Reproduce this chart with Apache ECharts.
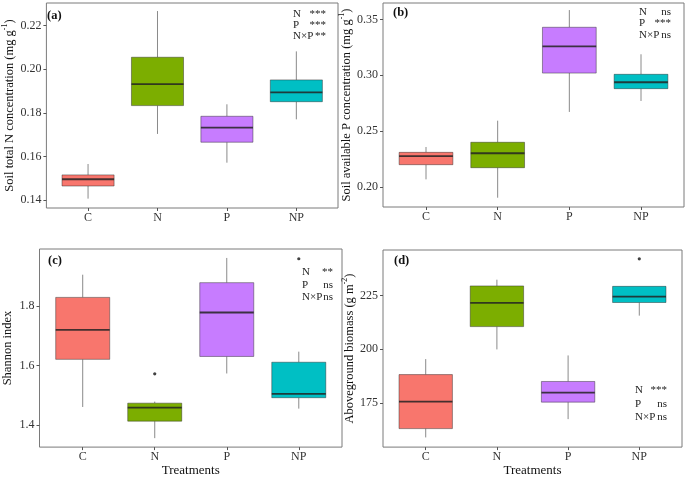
<!DOCTYPE html>
<html>
<head>
<meta charset="utf-8">
<script src="https://cdn.jsdelivr.net/npm/echarts@6.0.0/dist/echarts.min.js"></script>
<style>
html,body{margin:0;padding:0;background:#fff;}
#chart{width:685px;height:478px;}
</style>
</head>
<body>
<div id="chart"></div>
<script>
// ---------------- data ----------------
var categories = ['C', 'N', 'P', 'NP'];
// each row: [lower whisker, Q1, median, Q3, upper whisker]
var totalN = [
  [0.1406, 0.1464, 0.1495, 0.1515, 0.1565],
  [0.1703, 0.1833, 0.1932, 0.2055, 0.2267],
  [0.1571, 0.1665, 0.1732, 0.1784, 0.1839],
  [0.1770, 0.1851, 0.1894, 0.1951, 0.2082]
];
var availP = [
  [0.2071, 0.2202, 0.2279, 0.2312, 0.2360],
  [0.1907, 0.2175, 0.2304, 0.2402, 0.2595],
  [0.2673, 0.3020, 0.3259, 0.3429, 0.3583],
  [0.2771, 0.2881, 0.2938, 0.3009, 0.3188]
];
var shannon = [
  [1.4605, 1.6207, 1.7201, 1.8291, 1.9054],
  [1.3557, 1.4129, 1.4582, 1.4734, 1.4786],
  [1.5732, 1.6304, 1.7783, 1.8786, 1.9617],
  [1.4550, 1.4917, 1.5046, 1.6110, 1.6466]
];
var biomass = [
  [159.0, 163.1, 175.6, 188.2, 195.4],
  [199.9, 210.5, 221.5, 229.4, 232.3],
  [167.5, 175.4, 179.8, 185.0, 197.1],
  [215.6, 221.7, 224.4, 229.2, 229.2]
];
var totalNOutliers = [];
var availPOutliers = [];
var shannonOutliers = [['N', 1.572], ['NP', 1.959]];
var biomassOutliers = [['NP', 242.0]];

var totalNTicks = [0.14, 0.16, 0.18, 0.20, 0.22];
var availPTicks = [0.20, 0.25, 0.30, 0.35];
var shannonTicks = [1.4, 1.6, 1.8];
var biomassTicks = [175, 200, 225];

var sigA = [['N', '***'], ['P', '***'], ['N\u00d7P', '**']];
var sigB = [['N', 'ns'], ['P', '***'], ['N\u00d7P', 'ns']];
var sigC = [['N', '**'], ['P', 'ns'], ['N\u00d7P', 'ns']];
var sigD = [['N', '***'], ['P', 'ns'], ['N\u00d7P', 'ns']];

// ---------------- styling / layout ----------------
var palette = ['#F8766D', '#7CAE00', '#C77CFF', '#00BFC4'];
var FONT = '"Liberation Serif", "Times New Roman", serif';

var panels = [
  { label: '(a)', data: totalN, outliers: totalNOutliers, ticks: totalNTicks, dec: 2,
    min: 0.1363, max: 0.2304,
    grid: { left: 38, top: 3, width: 300, height: 205 },
    yname: '{t|Soil total N concentration (mg g}{s|-1}{t|)}', ygap: 24, xname: '',
    labelPos: [47, 16], sig: sigA, sigX: [293, 326], sigY: [14, 25, 36] },
  { label: '(b)', data: availP, outliers: availPOutliers, ticks: availPTicks, dec: 2,
    min: 0.1824, max: 0.3646,
    grid: { left: 383, top: 3, width: 301, height: 204 },
    yname: '{t|Soil available P concentration (mg g}{s|-1}{t|)}', ygap: 24, xname: '',
    labelPos: [393, 13], sig: sigB, sigX: [639, 671], sigY: [12, 23, 35] },
  { label: '(c)', data: shannon, outliers: shannonOutliers, ticks: shannonTicks, dec: 1,
    min: 1.3256, max: 1.9918,
    grid: { left: 38, top: 249, width: 304, height: 206 },
    yname: '{t|Shannon index}', ygap: 23, xname: 'Treatments',
    labelPos: [48, 261], sig: sigC, sigX: [302, 333], sigY: [272, 285, 297] },
  { label: '(d)', data: biomass, outliers: biomassOutliers, ticks: biomassTicks, dec: 0,
    min: 154.5, max: 246.1,
    grid: { left: 383, top: 250, width: 299, height: 204 },
    yname: '{t|Aboveground biomass (g m}{s|-2}{t|)}', ygap: 20, xname: 'Treatments',
    labelPos: [394, 261], sig: sigD, sigX: [635, 667], sigY: [390, 404, 417] }
];

function renderBox(params, api) {
  var x = api.value(0);
  var lo = api.coord([x, api.value(1)]);
  var q1 = api.coord([x, api.value(2)]);
  var md = api.coord([x, api.value(3)]);
  var q3 = api.coord([x, api.value(4)]);
  var hi = api.coord([x, api.value(5)]);
  var w = api.size([0.75, 0])[0];
  var color = palette[params.dataIndex];
  return {
    type: 'group',
    children: [
      { type: 'line', shape: { x1: lo[0], y1: lo[1], x2: q1[0], y2: q1[1] },
        style: { stroke: '#8a8a8a', lineWidth: 1 } },
      { type: 'line', shape: { x1: q3[0], y1: q3[1], x2: hi[0], y2: hi[1] },
        style: { stroke: '#8a8a8a', lineWidth: 1 } },
      { type: 'rect', shape: { x: q1[0] - w / 2, y: q3[1], width: w, height: q1[1] - q3[1] },
        style: { fill: color, stroke: 'rgba(40,40,40,0.45)', lineWidth: 1 } },
      { type: 'line', shape: { x1: md[0] - w / 2, y1: md[1], x2: md[0] + w / 2, y2: md[1] },
        style: { stroke: 'rgba(35,35,35,0.85)', lineWidth: 1.8 } }
    ]
  };
}

var grids = [], xAxes = [], yAxes = [], series = [], graphics = [];
panels.forEach(function (p, i) {
  grids.push({
    left: p.grid.left, top: p.grid.top, width: p.grid.width, height: p.grid.height,
    show: true, borderColor: '#7a7a7a', borderWidth: 1, backgroundColor: '#fff'
  });
  xAxes.push({
    type: 'value', gridIndex: i, min: 0.4, max: 4.6,
    axisLine: { show: false },
    splitLine: { show: false },
    axisTick: { show: true, length: 3, lineStyle: { color: '#555' }, customValues: [1, 2, 3, 4] },
    axisLabel: {
      customValues: [1, 2, 3, 4], margin: 4, color: '#333', fontFamily: FONT, fontSize: 12,
      formatter: function (v) { return categories[Math.round(v) - 1]; }
    },
    name: p.xname, nameLocation: 'middle', nameGap: 10,
    nameTextStyle: { fontFamily: FONT, fontSize: 13, color: '#111' }
  });
  yAxes.push({
    type: 'value', gridIndex: i, min: p.min, max: p.max,
    axisLine: { show: false },
    splitLine: { show: false },
    axisTick: { show: true, length: 3, lineStyle: { color: '#555' }, customValues: p.ticks },
    axisLabel: {
      customValues: p.ticks, margin: 5, color: '#333', fontFamily: FONT, fontSize: 12,
      formatter: (function (dec) { return function (v) { return v.toFixed(dec); }; })(p.dec)
    },
    name: p.yname, nameLocation: 'middle', nameGap: p.ygap,
    nameTextStyle: {
      fontFamily: FONT, color: '#111',
      rich: {
        t: { fontFamily: FONT, fontSize: 12.5, color: '#111', lineHeight: 18 },
        s: { fontFamily: FONT, fontSize: 8, color: '#111', verticalAlign: 'top', lineHeight: 18 }
      }
    }
  });
  series.push({
    type: 'custom', xAxisIndex: i, yAxisIndex: i,
    renderItem: renderBox,
    encode: { x: 0, y: [1, 2, 3, 4, 5] },
    data: p.data.map(function (d, j) { return [j + 1].concat(d); }),
    silent: true
  });
  if (p.outliers.length) {
    series.push({
      type: 'scatter', xAxisIndex: i, yAxisIndex: i, symbol: 'circle', symbolSize: 3.2,
      itemStyle: { color: '#111' }, silent: true,
      data: p.outliers.map(function (o) { return [categories.indexOf(o[0]) + 1, o[1]]; })
    });
  }
  graphics.push({
    type: 'text', x: p.labelPos[0], y: p.labelPos[1], silent: true,
    style: { text: p.label, fontFamily: FONT, fontWeight: 'bold', fontSize: 12.5, fill: '#111',
      align: 'left', verticalAlign: 'middle', textAlign: 'left', textVerticalAlign: 'middle' }
  });
  p.sig.forEach(function (s, k) {
    graphics.push({
      type: 'text', x: p.sigX[0], y: p.sigY[k], silent: true,
      style: { text: s[0], fontFamily: FONT, fontSize: 11, fill: '#222',
        align: 'left', verticalAlign: 'middle', textAlign: 'left', textVerticalAlign: 'middle' }
    });
    graphics.push({
      type: 'text', x: p.sigX[1], y: p.sigY[k], silent: true,
      style: { text: s[1], fontFamily: FONT, fontSize: 11, fill: '#222',
        align: 'right', verticalAlign: 'middle', textAlign: 'right', textVerticalAlign: 'middle' }
    });
  });
});

var chart = echarts.init(document.getElementById('chart'), null, { renderer: 'canvas' });
chart.setOption({
  animation: false,
  backgroundColor: '#fff',
  grid: grids,
  xAxis: xAxes,
  yAxis: yAxes,
  series: series,
  graphic: graphics
});
</script>
</body>
</html>
